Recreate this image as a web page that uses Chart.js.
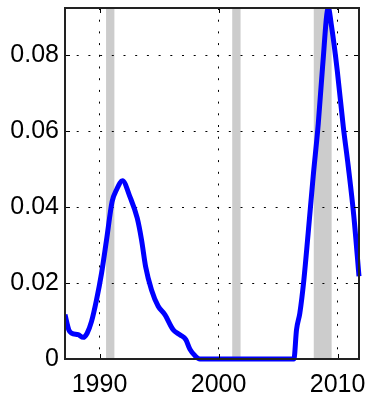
<!DOCTYPE html>
<html>
<head>
<meta charset="utf-8">
<script src="https://cdn.jsdelivr.net/npm/chart.js@4"></script>
<style>
  html, body { margin: 0; padding: 0; background: #fff; }
  #wrap { width: 372px; height: 396px; }
</style>
</head>
<body>
<div id="wrap"><canvas id="probChart" width="372" height="396"></canvas></div>
<script>
// values
const years = [1987.1, 1987.42, 1987.65, 1988.2, 1988.63, 1988.96, 1989.33, 1989.75, 1990.17, 1990.59,
  1991.06, 1991.43, 1991.93, 1992.55, 1993.17, 1993.53, 1993.87, 1994.37, 1994.93, 1995.49,
  1996.19, 1996.75, 1997.25, 1997.59, 1998.01, 1998.43, 2002.0, 2006.33, 2006.55, 2006.83,
  2007.17, 2007.53, 2007.95, 2008.38, 2008.74, 2009.22, 2009.5, 2009.97, 2010.48, 2010.9,
  2011.37, 2011.8];
const probs = [0.0117, 0.0077, 0.0068, 0.0064, 0.0057, 0.0068, 0.0099, 0.0156, 0.0226, 0.0314,
  0.0415, 0.0446, 0.047, 0.0428, 0.0371, 0.0314, 0.0244, 0.0182, 0.0139, 0.0117,
  0.0077, 0.0064, 0.0051, 0.0026, 0.0009, 0.0, 0.0, 0.0, 0.0077, 0.0121,
  0.0209, 0.0332, 0.0481, 0.0621, 0.077, 0.0925, 0.0875, 0.0761, 0.0612, 0.0507,
  0.0375, 0.0218];
// shaded recessions (start, end)
const recessionStart = [1990.55, 2001.15, 2008.0];
const recessionEnd = [1991.25, 2001.85, 2009.5];
const xTicks = [1990, 2000, 2010];
const yTicks = [0, 0.02, 0.04, 0.06, 0.08];
const yTickLabels = ['0', '0.02', '0.04', '0.06', '0.08'];

// gray bands behind everything
const bandsPlugin = {
  id: 'bands',
  beforeDraw(chart) {
    const { ctx, chartArea, scales } = chart;
    ctx.save();
    ctx.fillStyle = '#cccccc';
    for (let i = 0; i < recessionStart.length; i++) {
      const x1 = scales.x.getPixelForValue(recessionStart[i]);
      const x2 = scales.x.getPixelForValue(recessionEnd[i]);
      ctx.fillRect(x1, chartArea.top, x2 - x1, chartArea.bottom - chartArea.top);
    }
    ctx.restore();
  }
};

// box round the plot and small inward ticks
const framePlugin = {
  id: 'frame',
  afterDraw(chart) {
    const { ctx, chartArea, scales } = chart;
    const a = chartArea;
    ctx.save();
    ctx.strokeStyle = '#000';
    ctx.lineWidth = 1;
    xTicks.forEach(v => {
      const px = Math.round(scales.x.getPixelForValue(v)) + 0.5;
      ctx.beginPath();
      ctx.moveTo(px, a.bottom); ctx.lineTo(px, a.bottom - 5);
      ctx.moveTo(px, a.top); ctx.lineTo(px, a.top + 5);
      ctx.stroke();
    });
    yTicks.forEach(v => {
      const py = Math.round(scales.y.getPixelForValue(v)) + 0.5;
      ctx.beginPath();
      ctx.moveTo(a.left, py); ctx.lineTo(a.left + 5, py);
      ctx.moveTo(a.right, py); ctx.lineTo(a.right - 5, py);
      ctx.stroke();
    });
    ctx.lineWidth = 2;
    ctx.strokeStyle = '#222';
    ctx.strokeRect(a.left, a.top, a.right - a.left, a.bottom - a.top);
    ctx.restore();
  }
};

function noPad(axis) {
  axis.paddingLeft = 0;
  axis.paddingRight = 0;
  axis.paddingTop = 0;
  axis.paddingBottom = 0;
}

const ctx = document.getElementById('probChart').getContext('2d');
new Chart(ctx, {
  type: 'line',
  data: {
    datasets: [{
      data: years.map((x, i) => ({ x: x, y: probs[i] })),
      borderColor: '#0000ff',
      borderWidth: 5,
      pointRadius: 0,
      fill: false,
      cubicInterpolationMode: 'monotone',
      clip: { left: 0, top: 0, right: 5, bottom: 5 }
    }]
  },
  options: {
    responsive: false,
    animation: false,
    layout: { padding: { top: 8, right: 13, left: 0, bottom: 0 } },
    plugins: { legend: { display: false }, tooltip: { enabled: false } },
    scales: {
      x: {
        type: 'linear',
        min: 1987.1,
        max: 2011.8,
        afterBuildTicks: axis => { axis.ticks = xTicks.map(v => ({ value: v })); },
        afterFit: axis => { axis.height = 37; noPad(axis); },
        grid: { color: '#000', lineWidth: 1, drawTicks: false },
        border: { display: false, dash: [2, 9.7] },
        ticks: {
          padding: 11,
          color: '#000',
          maxRotation: 0,
          font: { family: 'Liberation Sans', size: 25 },
          callback: v => String(v)
        }
      },
      y: {
        type: 'linear',
        min: 0,
        max: 0.0925,
        afterBuildTicks: axis => { axis.ticks = yTicks.map(v => ({ value: v })); },
        afterFit: axis => { axis.width = 65; noPad(axis); },
        grid: { color: '#000', lineWidth: 1, drawTicks: false },
        border: { display: false, dash: [2, 9.7] },
        ticks: {
          padding: 6,
          color: '#000',
          font: { family: 'Liberation Sans', size: 25 },
          callback: v => yTickLabels[yTicks.indexOf(v)]
        }
      }
    }
  },
  plugins: [bandsPlugin, framePlugin]
});
</script>
</body>
</html>
